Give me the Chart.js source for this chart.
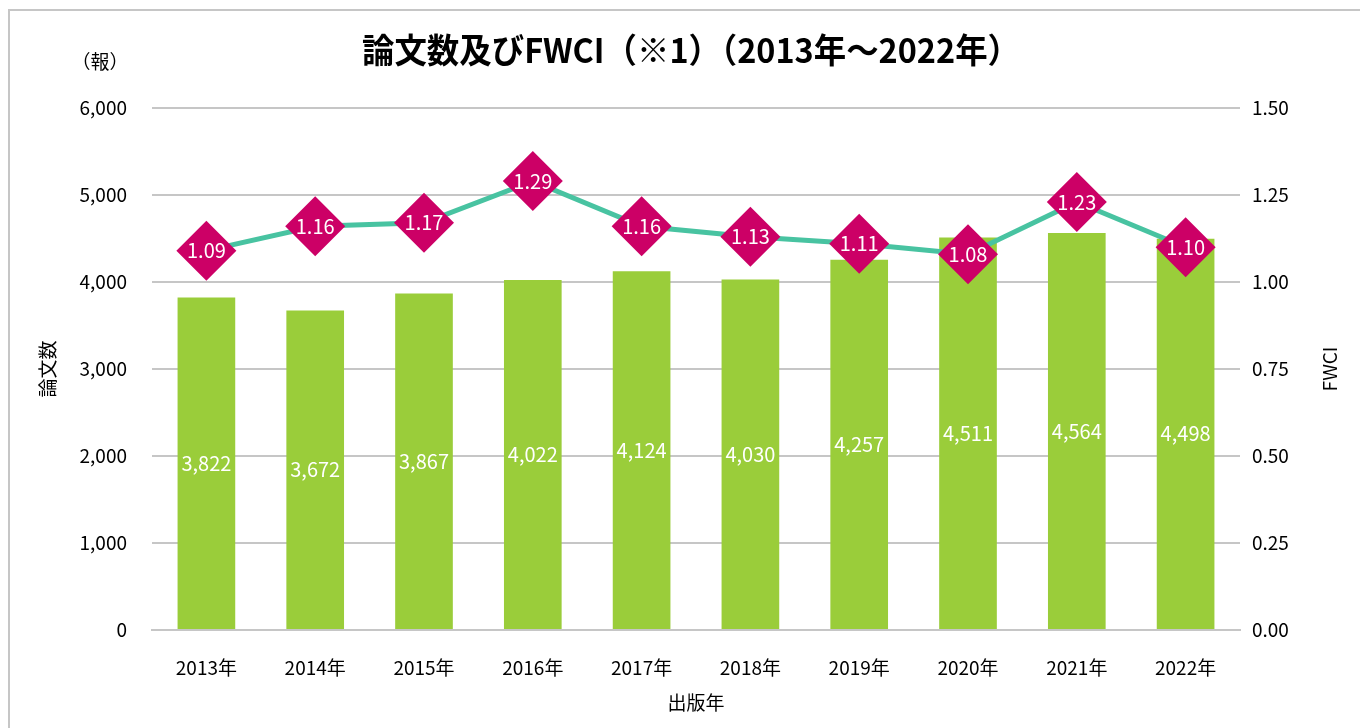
<!DOCTYPE html>
<html lang="ja">
<head>
  <meta charset="UTF-8">
  <title>論文数及びFWCI</title>
  <script src="https://cdn.jsdelivr.net/npm/chart.js"></script>
  <style>
    body { margin: 0; padding: 0; background: #fff; overflow: hidden; }
    .frame {
      position: absolute; left: 8px; top: 9px; width: 1400px; height: 800px;
      border: 2px solid #c6c6c6;
    }
    #chart { position: absolute; left: 0; top: 0; }
  </style>
</head>
<body>
  <div class="frame"></div>
  <canvas id="chart" width="1360" height="728"></canvas>

  <script>
    const years = ['2013年', '2014年', '2015年', '2016年', '2017年', '2018年', '2019年', '2020年', '2021年', '2022年'];
    const papers = [3822, 3672, 3867, 4022, 4124, 4030, 4257, 4511, 4564, 4498];
    const fwci = [1.09, 1.16, 1.17, 1.29, 1.16, 1.13, 1.11, 1.08, 1.23, 1.10];
    const titleText = '論文数及びFWCI（※1）（2013年～2022年）';

    const JP = "'Noto Sans CJK JP', sans-serif";

    // タイトル、単位、右軸タイトル、数値ラベル
    const extras = {
      id: 'extras',
      afterDatasetsDraw(chart) {
        const ctx = chart.ctx;
        const area = chart.chartArea;
        ctx.save();
        ctx.fillStyle = '#fff';
        ctx.textAlign = 'center';
        ctx.textBaseline = 'middle';
        ctx.font = '20px ' + JP;
        chart.getDatasetMeta(0).data.forEach((bar, i) => {
          ctx.fillText(papers[i].toLocaleString('en-US'), bar.x, (bar.y + bar.base) / 2);
        });
        chart.getDatasetMeta(1).data.forEach((pt, i) => {
          ctx.fillText(fwci[i].toFixed(2), pt.x, pt.y);
        });

        ctx.fillStyle = '#000';
        ctx.font = '19px ' + JP;
        ctx.fillText('（報）', area.left - 52, area.top - 46);

        ctx.save();
        ctx.translate(1330, (area.top + area.bottom) / 2);
        ctx.rotate(-Math.PI / 2);
        ctx.fillText('FWCI', 0, 0);
        ctx.restore();

        // 縦長の太字タイトル
        ctx.font = 'bold 34px ' + JP;
        const w = ctx.measureText(titleText).width;
        ctx.translate(691, 50);
        ctx.scale(658 / w, 1);
        ctx.fillText(titleText, 0, 0);
        ctx.restore();
      }
    };

    new Chart(document.getElementById('chart'), {
      data: {
        labels: years,
        datasets: [{
          type: 'bar',
          label: '論文数',
          data: papers,
          backgroundColor: '#9ACD3A',
          barPercentage: 0.53,
          categoryPercentage: 1,
          yAxisID: 'y',
          order: 2
        }, {
          type: 'line',
          label: 'FWCI',
          data: fwci,
          borderColor: '#48C3A1',
          borderWidth: 5,
          pointStyle: 'rectRot',
          pointRadius: 30,
          pointBackgroundColor: '#CC0066',
          pointBorderWidth: 0,
          yAxisID: 'y1',
          order: 1
        }]
      },
      options: {
        responsive: false,
        devicePixelRatio: 1,
        animation: false,
        layout: { padding: { top: 108, left: 0, right: 0, bottom: 0 } },
        plugins: {
          legend: { display: false },
          tooltip: { enabled: false },
          title: { display: false }
        },
        scales: {
          x: {
            grid: { display: false },
            border: { color: '#c6c6c6', width: 2 },
            ticks: { color: '#000', font: { family: JP, size: 19 }, padding: 18, maxRotation: 0 },
            title: { display: true, text: '出版年', color: '#000', font: { family: JP, size: 19 }, padding: { top: 0, bottom: 14 } },
            afterFit: s => { s.height = 98; }
          },
          y: {
            position: 'left',
            min: 0, max: 6000,
            ticks: { stepSize: 1000, color: '#000', font: { family: JP, size: 19 }, padding: 25,
              callback: v => v.toLocaleString('en-US') },
            grid: { color: '#c6c6c6', lineWidth: 2, drawTicks: false },
            border: { display: false },
            title: { display: true, text: '論文数', color: '#000', font: { family: JP, size: 19 }, padding: { top: 36, bottom: 0 } },
            afterFit: s => { s.width = 152; }
          },
          y1: {
            position: 'right',
            min: 0, max: 1.5,
            ticks: { stepSize: 0.25, color: '#000', font: { family: JP, size: 19 }, padding: 12,
              callback: v => v.toFixed(2) },
            grid: { display: false, drawTicks: false },
            border: { display: false },
            title: { display: false },
            afterFit: s => { s.width = 120; }
          }
        }
      },
      plugins: [extras]
    });
  </script>
</body>
</html>
